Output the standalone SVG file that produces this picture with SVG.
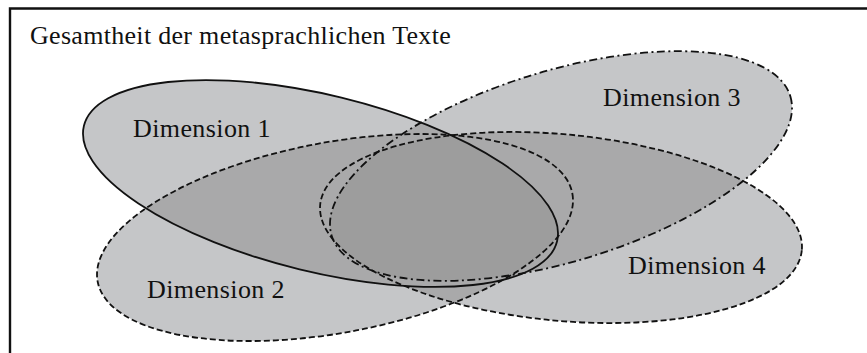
<svg xmlns="http://www.w3.org/2000/svg" xmlns:xlink="http://www.w3.org/1999/xlink" width="867" height="353" viewBox="0 0 867 353">
<style>
.lt{fill:#c5c6c8}
.md{fill:#a9a9aa}
.dk{fill:#9d9d9d}
.ln{fill:none;stroke:#111;stroke-width:1.8}
.dash{stroke-dasharray:6 3}
.dd{stroke-dasharray:8 3.5 2 3.5}
.lbl{font-family:"Liberation Serif","Times New Roman",serif;font-size:26px;letter-spacing:0.4px;fill:#111}
.ttl{font-family:"Liberation Serif","Times New Roman",serif;font-size:26px;letter-spacing:0.3px;fill:#111}
</style>
<defs>
<ellipse id="e1" cx="0" cy="0" rx="243.5" ry="88.4" transform="translate(320.5 183.5) rotate(13.7)"/>
<ellipse id="e2" cx="0" cy="0" rx="241.4" ry="95.3" transform="translate(335 237.5) rotate(-10.5)"/>
<ellipse id="e3" cx="0" cy="0" rx="239.7" ry="95.4" transform="translate(561 166) rotate(-16.9)"/>
<ellipse id="e4" cx="0" cy="0" rx="241.9" ry="93.2" transform="translate(561 227.5) rotate(5.4)"/>
<clipPath id="c1"><use xlink:href="#e1"/></clipPath>
<clipPath id="c2"><use xlink:href="#e2"/></clipPath>
<clipPath id="c3"><use xlink:href="#e3"/></clipPath>
<clipPath id="c4"><use xlink:href="#e4"/></clipPath>
</defs>
<rect x="0" y="0" width="867" height="353" fill="#fff"/>
<path d="M867 8.5H10V353" fill="none" stroke="#111" stroke-width="2.4"/>
<g id="title"><text class="ttl" x="30" y="44">Gesamtheit der metasprachlichen Texte</text></g>
<g id="fills">
<use xlink:href="#e1" class="lt"/>
<use xlink:href="#e2" class="lt"/>
<use xlink:href="#e3" class="lt"/>
<use xlink:href="#e4" class="lt"/>
<g clip-path="url(#c1)"><use xlink:href="#e2" class="md"/><use xlink:href="#e3" class="md"/><use xlink:href="#e4" class="md"/></g>
<g clip-path="url(#c2)"><use xlink:href="#e3" class="md"/><use xlink:href="#e4" class="md"/></g>
<g clip-path="url(#c3)"><use xlink:href="#e4" class="md"/></g>
<g clip-path="url(#c1)"><g clip-path="url(#c2)"><g clip-path="url(#c3)"><use xlink:href="#e4" class="dk"/></g></g></g>
</g>
<g id="dimension1"><use xlink:href="#e1" class="ln"/><text class="lbl" x="133" y="137">Dimension 1</text></g>
<g id="dimension2"><use xlink:href="#e2" class="ln dash"/><text class="lbl" x="147" y="298">Dimension 2</text></g>
<g id="dimension3"><use xlink:href="#e3" class="ln dd"/><text class="lbl" x="603" y="106">Dimension 3</text></g>
<g id="dimension4"><use xlink:href="#e4" class="ln dash"/><text class="lbl" x="628" y="274">Dimension 4</text></g>
<g id="connectors"/>
</svg>
